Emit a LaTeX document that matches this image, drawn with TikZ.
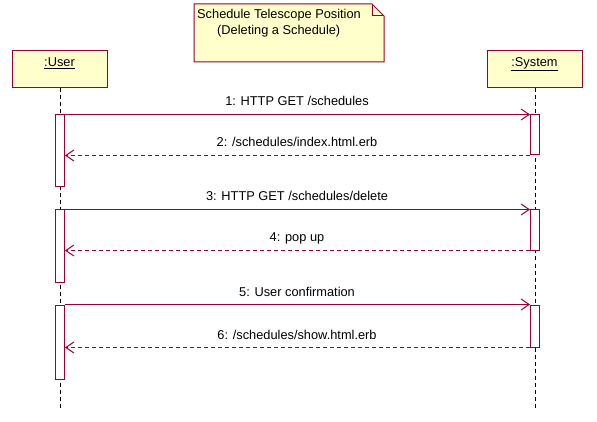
\documentclass[tikz,border=0pt]{standalone}
\usepackage{fontspec}
\setmainfont{Liberation Sans}
\usetikzlibrary{arrows.meta}
\definecolor{umlred}{RGB}{153,0,51}
\definecolor{umlfill}{RGB}{255,255,204}
\tikzset{
  objbox/.style={draw=umlred, fill=umlfill, line width=1pt, minimum width=95pt, minimum height=37pt, inner sep=0pt},
  actbar/.style={draw=umlred, fill=white, line width=1pt, minimum width=9pt, inner sep=0pt},
  lifeline/.style={draw=black, line width=1pt, dash pattern=on 4pt off 3pt},
  callmsg/.style={draw=umlred, line width=1pt, -{Straight Barb[length=8pt,width=11pt,line width=1pt]}},
  retmsg/.style={draw=umlred, line width=1pt, dash pattern=on 4pt off 3pt, -{Straight Barb[length=8pt,width=11pt,line width=1pt]}},
  msglabel/.style={anchor=base, inner sep=0pt, font=\fontsize{12.8}{15}\selectfont},
  objlabel/.style={anchor=base, inner sep=0pt, font=\fontsize{12.8}{15}\selectfont},
}
\begin{document}
\begin{tikzpicture}[x=1pt, y=-1pt]
\useasboundingbox (0,0) rectangle (597,422);
% note
\draw[draw=umlred, fill=umlfill, line width=1pt] (194,4) -- (372,4) -- (384,16) -- (384,62) -- (194,62) -- cycle;
\draw[draw=umlred, line width=1pt] (372,4) -- (372,16) -- (384,16);
\node (n1) [anchor=base west, inner sep=0pt, font=\fontsize{12.8}{15}\selectfont] at (197,19) {Schedule Telescope Position};
\node (n2) [anchor=base west, inner sep=0pt, font=\fontsize{12.8}{15}\selectfont] at (217,35) {(Deleting a Schedule)};
% objects
\node (user) [objbox] at (59.5,69.5) {};
\node (sys) [objbox] at (534.5,69.5) {};
\node (ul) [objlabel] at (59.5,66.5) {\underline{:User}};
\node (sl) [objlabel] at (534.5,66.5) {\underline{:System}};
% lifelines
\coordinate (uend) at (60,408);
\coordinate (send) at (535,408);
\draw[lifeline] (user.south -| uend) -- (uend);
\draw[lifeline] (sys.south -| send) -- (send);
% activation bars
\node (ua1) [actbar, minimum height=72pt] at (60,151) {};
\node (sa1) [actbar, minimum height=40pt] at (535,135) {};
\node (ua2) [actbar, minimum height=72pt] at (60,246) {};
\node (sa2) [actbar, minimum height=40pt] at (535,230) {};
\node (ua3) [actbar, minimum height=74pt] at (60,342) {};
\node (sa3) [actbar, minimum height=42pt] at (535,326) {};
% messages
\draw[callmsg] (ua1.north east) -- (sa1.north west);
\draw[retmsg] (sa1.south west) -- (sa1.south west -| ua1.east);
\draw[callmsg] (ua2.north east) -- (sa2.north west);
\draw[retmsg] (sa2.south west) -- (sa2.south west -| ua2.east);
\draw[callmsg] (ua3.north east) -- (sa3.north west);
\draw[retmsg] (sa3.south west) -- (sa3.south west -| ua3.east);
% labels
\node (l1) [msglabel] at (297,106) {1: HTTP GET /schedules};
\node (l2) [msglabel] at (297,147) {2: /schedules/index.html.erb};
\node (l3) [msglabel] at (297,201) {3: HTTP GET /schedules/delete};
\node (l4) [msglabel] at (297,242) {4: pop up};
\node (l5) [msglabel] at (297,296) {5: User confirmation};
\node (l6) [msglabel] at (297,339) {6: /schedules/show.html.erb};
\end{tikzpicture}
\end{document}
